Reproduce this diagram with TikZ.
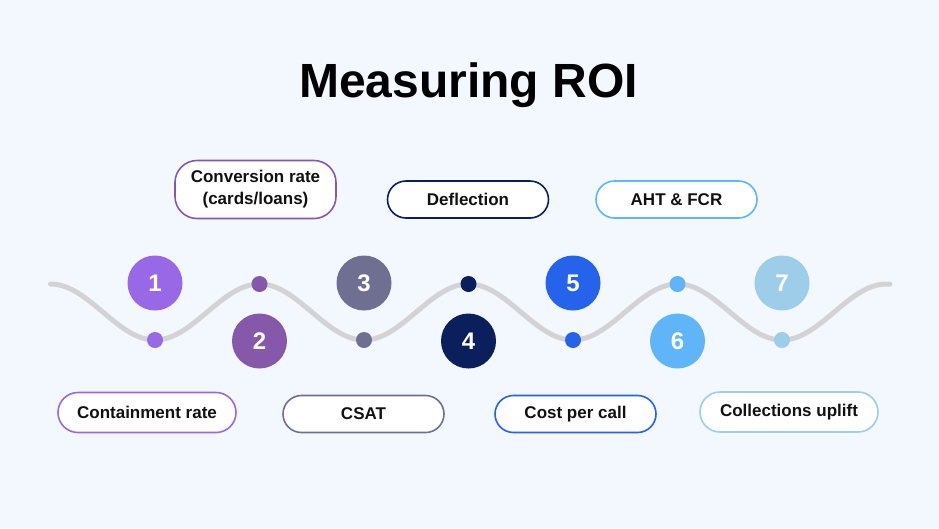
\documentclass[tikz,border=0pt]{standalone}
\usepackage{fontspec}
\setmainfont{Liberation Sans}
\definecolor{bg}{HTML}{F3F7FE}
\definecolor{wave}{HTML}{D3D3D5}
\definecolor{cA}{HTML}{9968E6}
\definecolor{cB}{HTML}{8658AA}
\definecolor{cC}{HTML}{6F6F91}
\definecolor{cD}{HTML}{0A1F5C}
\definecolor{cE}{HTML}{2563EB}
\definecolor{cF}{HTML}{60B5F8}
\definecolor{cG}{HTML}{9DCDE8}
\definecolor{ink}{HTML}{111111}
\begin{document}
\begin{tikzpicture}[x=1pt,y=-1pt,
  numcirc/.style={circle,minimum size=55pt,inner sep=0pt,text=white,font=\fontsize{24}{24}\selectfont\bfseries},
  dot/.style={circle,minimum size=16pt,inner sep=0pt},
  pill/.style={draw,line width=1.6pt,fill=white,rounded corners=18.5pt,minimum width=161pt,minimum height=37pt,inner sep=0pt,text=ink,font=\fontsize{17}{22}\selectfont\bfseries,align=center}]
\fill[bg] (0,0) rectangle (939,528);
\useasboundingbox (0,0) rectangle (939,528);
\node[font=\fontsize{48}{48}\selectfont\bfseries,text=black,anchor=base] (title) at (468.5,97) {Measuring ROI};
% wave
\draw[wave,line width=5pt,line cap=round] plot[domain=50.5:890,samples=320,smooth] (\x,{312-28*cos((\x-50.5)/209*360)});
% dots on wave
\node[dot,fill=cA] (d1) at (155,340) {};
\node[dot,fill=cB] (d2) at (259.5,284) {};
\node[dot,fill=cC] (d3) at (364,340) {};
\node[dot,fill=cD] (d4) at (468.5,284) {};
\node[dot,fill=cE] (d5) at (573,340) {};
\node[dot,fill=cF] (d6) at (677.5,284) {};
\node[dot,fill=cG] (d7) at (782,340) {};
% numbered circles
\node[numcirc,fill=cA] (n1) at (155,283) {1};
\node[numcirc,fill=cB] (n2) at (259.5,341) {2};
\node[numcirc,fill=cC] (n3) at (364,283) {3};
\node[numcirc,fill=cD] (n4) at (468.5,341) {4};
\node[numcirc,fill=cE] (n5) at (573,283) {5};
\node[numcirc,fill=cF] (n6) at (677.5,341) {6};
\node[numcirc,fill=cG] (n7) at (782,283) {7};
% labels
\node[pill,draw=cB,minimum height=58pt,rounded corners=22pt] (l2) at (255.5,189.5) {Conversion rate\\(cards/loans)};
\node[pill,draw=cD] (l4) at (468,199.5) {Deflection};
\node[pill,draw=cF] (l6) at (676.5,199.5) {AHT \& FCR};
\node[pill,draw=cA,minimum width=178pt,minimum height=40pt,rounded corners=20pt] (l1) at (147,412.5) {Containment rate};
\node[pill,draw=cC] (l3) at (363.5,414) {CSAT};
\node[pill,draw=cE] (l5) at (575.5,414) {Cost per call};
\node[pill,draw=cG,minimum width=178pt,minimum height=40pt,rounded corners=20pt] (l7) at (789,412) {Collections uplift};
\end{tikzpicture}
\end{document}
